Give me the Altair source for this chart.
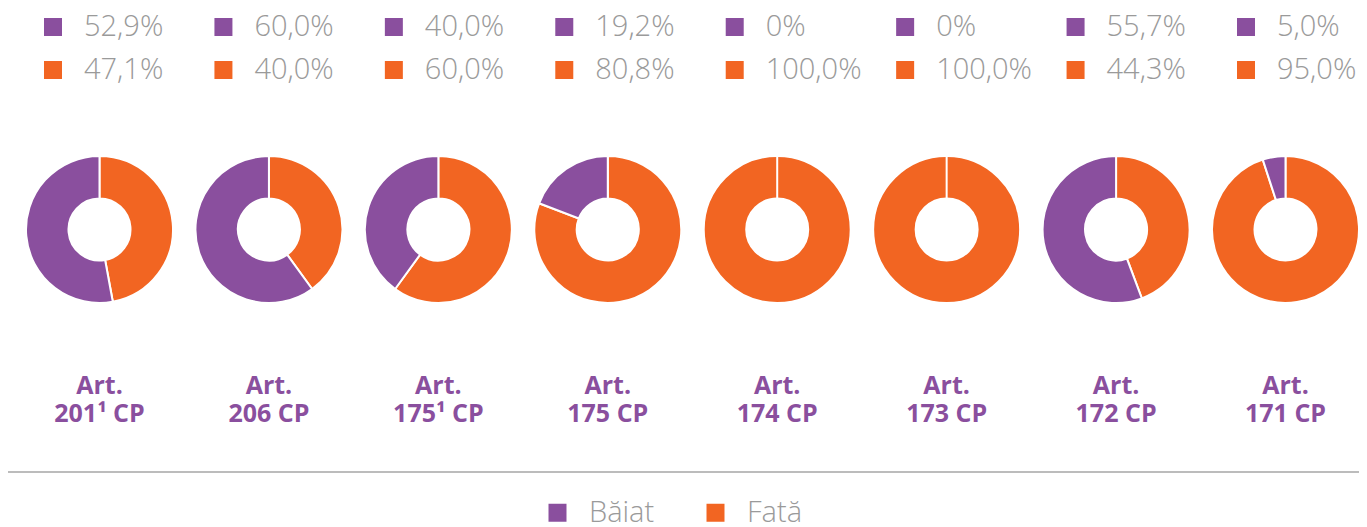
import altair as alt
import pandas as pd

articles = ["201¹ CP", "206 CP", "175¹ CP", "175 CP", "174 CP", "173 CP", "172 CP", "171 CP"]
baiat = [52.9, 60.0, 40.0, 19.2, 0.0, 0.0, 55.7, 5.0]
fata = [47.1, 40.0, 60.0, 80.8, 100.0, 100.0, 44.3, 95.0]
series = ["Băiat", "Fată"]
colors = ["#8a4f9e", "#f26522"]


def fmt(v):
    return "0%" if v == 0 else f"{v:.1f}".replace(".", ",") + "%"


rows = []
for i, a in enumerate(articles):
    f, b = fata[i], baiat[i]
    rows.append(dict(idx=i, art=a, sex="Fată", start=0.0, end=f, pct=fmt(f), row=1))
    rows.append(dict(idx=i, art=a, sex="Băiat", start=f, end=f + b, pct=fmt(b), row=0))
df = pd.DataFrame(rows)
labels = pd.DataFrame({"idx": list(range(len(articles))), "art": articles,
                       "head": ["Art."] * len(articles)})

W, H = 1351, 519
x_donut = alt.Scale(domain=[0, 7], range=[91.5, 1277.5])
x_leg = alt.Scale(domain=[0, 7], range=[45, 1238])

color = alt.Color(
    "sex:N",
    scale=alt.Scale(domain=series, range=colors),
    legend=alt.Legend(
        title=None, orient="none", legendX=535, legendY=490, direction="horizontal",
        symbolType="square", symbolSize=324, symbolStrokeWidth=0, symbolOpacity=1,
        labelFont="Open Sans", labelFontSize=29, labelFontWeight=300,
        labelColor="#9a9a9a", labelOffset=17, columnPadding=46,
    ),
)

arcs = alt.Chart(df).mark_arc(
    innerRadius=31, outerRadius=73.5, stroke="white", strokeWidth=2
).encode(
    x=alt.X("idx:Q", scale=x_donut, axis=None, stack=None),
    y=alt.value(221.5),
    theta=alt.Theta("start:Q", scale=alt.Scale(domain=[0, 100]), stack=None),
    theta2="end:Q",
    color=color,
)

squares = alt.Chart(df).mark_point(
    shape="square", filled=True, size=324, opacity=1
).encode(
    x=alt.X("idx:Q", scale=x_leg, axis=None, stack=None),
    y=alt.Y("row:Q", scale=alt.Scale(domain=[0, 1], range=[19, 62]), axis=None, stack=None),
    color=color,
)

pcts = alt.Chart(df).mark_text(
    align="left", baseline="alphabetic", dx=31, dy=9,
    font="Open Sans", fontSize=29, fontWeight=300, color="#9a9a9a"
).encode(
    x=alt.X("idx:Q", scale=x_leg, axis=None, stack=None),
    y=alt.Y("row:Q", scale=alt.Scale(domain=[0, 1], range=[19, 62]), axis=None, stack=None),
    text="pct:N",
)

lab_style = dict(align="center", baseline="alphabetic", font="Open Sans",
                 fontSize=25, fontWeight="bold", color="#8a4f9e")
head = alt.Chart(labels).mark_text(**lab_style).encode(
    x=alt.X("idx:Q", scale=x_donut, axis=None, stack=None),
    y=alt.value(386),
    text="head:N",
)
code = alt.Chart(labels).mark_text(**lab_style).encode(
    x=alt.X("idx:Q", scale=x_donut, axis=None, stack=None),
    y=alt.value(414),
    text="art:N",
)

rule = alt.Chart(pd.DataFrame({"k": [0]})).mark_rule(
    color="#a6a6a6", strokeWidth=1.5
).encode(x=alt.value(0), x2=alt.value(W), y=alt.value(464))

chart = alt.layer(arcs, squares, pcts, head, code, rule).resolve_scale(
    x="independent", y="independent"
).properties(
    width=W, height=H, padding=0, autosize=alt.AutoSizeParams(type="none")
).configure_view(stroke=None)

chart.save("out.html", embed_options={"renderer": "svg", "actions": False})
